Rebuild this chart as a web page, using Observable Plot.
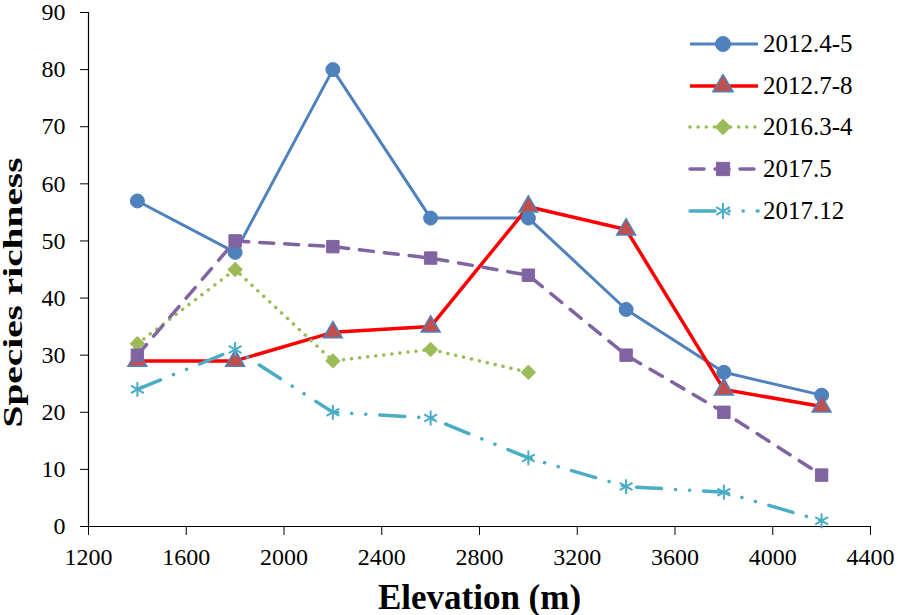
<!DOCTYPE html>
<html>
<head>
<meta charset="utf-8">
<script src="https://cdn.jsdelivr.net/npm/d3@7"></script>
<script src="https://cdn.jsdelivr.net/npm/@observablehq/plot@0.6"></script>
<style>
  html, body { margin: 0; padding: 0; background: #fff; }
  #wrap { position: relative; width: 898px; height: 615px; font-family: "Liberation Serif", "Times New Roman", serif; }
  #legend { position: absolute; left: 688px; top: 23px; }
  .row { display: flex; align-items: center; height: 41.8px; }
  .row span { font-size: 25px; color: #000; margin-left: 3px; }
</style>
</head>
<body>
<div id="wrap"></div>
<script>
const elevations = [1400, 1800, 2200, 2600, 3000, 3400, 3800, 4200];
const seriesNames = ["2012.4-5", "2012.7-8", "2016.3-4", "2017.5", "2017.12"];
const v2012_45 = [57, 48, 80, 54, 54, 38, 27, 23];
const v2012_78 = [29, 29, 34, 35, 56, 52, 24, 21];
const v2016_34 = [32, 45, 29, 31, 27];
const v2017_5  = [30, 50, 49, 47, 44, 30, 20, 9];
const v2017_12 = [24, 31, 20, 19, 12, 7, 6, 1];
const xTicks = [1200, 1600, 2000, 2400, 2800, 3200, 3600, 4000, 4400];
const yTicks = [0, 10, 20, 30, 40, 50, 60, 70, 80, 90];
const xTitle = "Elevation (m)";
const yTitle = "Species richness";

const values = [v2012_45, v2012_78, v2016_34, v2017_5, v2017_12];
const rows = [];
values.forEach((vals, i) => vals.forEach((v, j) => rows.push({series: seriesNames[i], elev: elevations[j], value: v})));

const styles = {
  "2012.4-5": {line: {stroke: "#4f81bd", strokeWidth: 3}, dot: {symbol: "circle", r: 7, fill: "#4f81bd", stroke: "#4f81bd", strokeWidth: 1}},
  "2012.7-8": {line: {stroke: "#ff0000", strokeWidth: 3.5}, dot: {symbol: "triangle", r: 7, fill: "#c0504d", stroke: "#4f81bd", strokeWidth: 1.5}},
  "2016.3-4": {line: {stroke: "#9bbb59", strokeWidth: 3.5, strokeDasharray: "0.1 8", strokeLinecap: "round"}, dot: {symbol: "diamond2", r: 6.5, fill: "#9bbb59", stroke: "#9bbb59", strokeWidth: 1}},
  "2017.5":   {line: {stroke: "#8064a2", strokeWidth: 3.5, strokeDasharray: "14 11", strokeLinecap: "round"}, dot: {symbol: "square", r: 7, fill: "#8064a2", stroke: "#8064a2", strokeWidth: 1}},
  "2017.12":  {line: {stroke: "#4bacc6", strokeWidth: 3.5, strokeDasharray: "25 14 0.1 14 0.1 14", strokeLinecap: "round"}, dot: {symbol: "asterisk", r: 7, fill: "none", stroke: "#4bacc6", strokeWidth: 2}}
};

const seriesMarks = [];
seriesNames.forEach(name => {
  const data = rows.filter(d => d.series === name);
  seriesMarks.push(Plot.line(data, {x: "elev", y: "value", ...styles[name].line}));
});
seriesNames.forEach(name => {
  const data = rows.filter(d => d.series === name);
  seriesMarks.push(Plot.dot(data, {x: "elev", y: "value", ...styles[name].dot}));
});

const chart = Plot.plot({
  width: 898,
  height: 615,
  marginLeft: 88,
  marginRight: 28,
  marginTop: 12,
  marginBottom: 89,
  x: {domain: [1200, 4400]},
  y: {domain: [0, 90]},
  style: {fontFamily: "'Liberation Serif', 'Times New Roman', serif", color: "#000", background: "#fff", overflow: "visible"},
  marks: [
    Plot.axisX({ticks: xTicks, tickSize: 9, tickPadding: 12, fontSize: 24, label: null, tickFormat: d => String(d), stroke: "#000"}),
    Plot.axisY({ticks: yTicks, tickSize: 8, tickPadding: 15, fontSize: 24, label: null, stroke: "#000"}),
    Plot.ruleX([1200], {stroke: "#000", strokeWidth: 1.2}),
    Plot.ruleY([0], {stroke: "#000", strokeWidth: 1.2}),
    ...seriesMarks,
    Plot.text([xTitle], {frameAnchor: "bottom", lineAnchor: "bottom", dy: 82, fontSize: 35, fontWeight: "bold", fill: "#000"}),
    Plot.text([yTitle], {frameAnchor: "left", textAnchor: "middle", lineAnchor: "middle", dx: -75, dy: 23, rotate: -90, fontSize: 27, fontWeight: "bold", fill: "#000"})
  ]
});

// stretch the y title along its own direction (reference text is elongated)
d3.select(chart).selectAll("text")
  .filter(function() { return this.textContent === yTitle; })
  .attr("textLength", 270)
  .attr("lengthAdjust", "spacingAndGlyphs");

const wrap = document.getElementById("wrap");
wrap.appendChild(chart);

// Legend overlay
const legend = document.createElement("div");
legend.id = "legend";
const symMap = {circle: d3.symbolCircle, triangle: d3.symbolTriangle, diamond2: d3.symbolDiamond2, square: d3.symbolSquare, asterisk: d3.symbolAsterisk};
seriesNames.forEach(name => {
  const st = styles[name];
  const row = document.createElement("div");
  row.className = "row";
  const svg = d3.create("svg").attr("width", 72).attr("height", 24);
  svg.append("line").attr("x1", 2).attr("x2", 70).attr("y1", 12).attr("y2", 12)
    .attr("stroke", st.line.stroke).attr("stroke-width", st.line.strokeWidth)
    .attr("stroke-dasharray", st.line.strokeDasharray || null)
    .attr("stroke-linecap", st.line.strokeLinecap || "butt");
  const rr = st.dot.r + 0.5;
  const size = Math.PI * rr * rr;
  svg.append("path").attr("transform", "translate(35,12)")
    .attr("d", d3.symbol(symMap[st.dot.symbol], size)())
    .attr("fill", st.dot.fill).attr("stroke", st.dot.stroke).attr("stroke-width", st.dot.strokeWidth);
  row.appendChild(svg.node());
  const label = document.createElement("span");
  label.textContent = name;
  row.appendChild(label);
  legend.appendChild(row);
});
wrap.appendChild(legend);
</script>
</body>
</html>
